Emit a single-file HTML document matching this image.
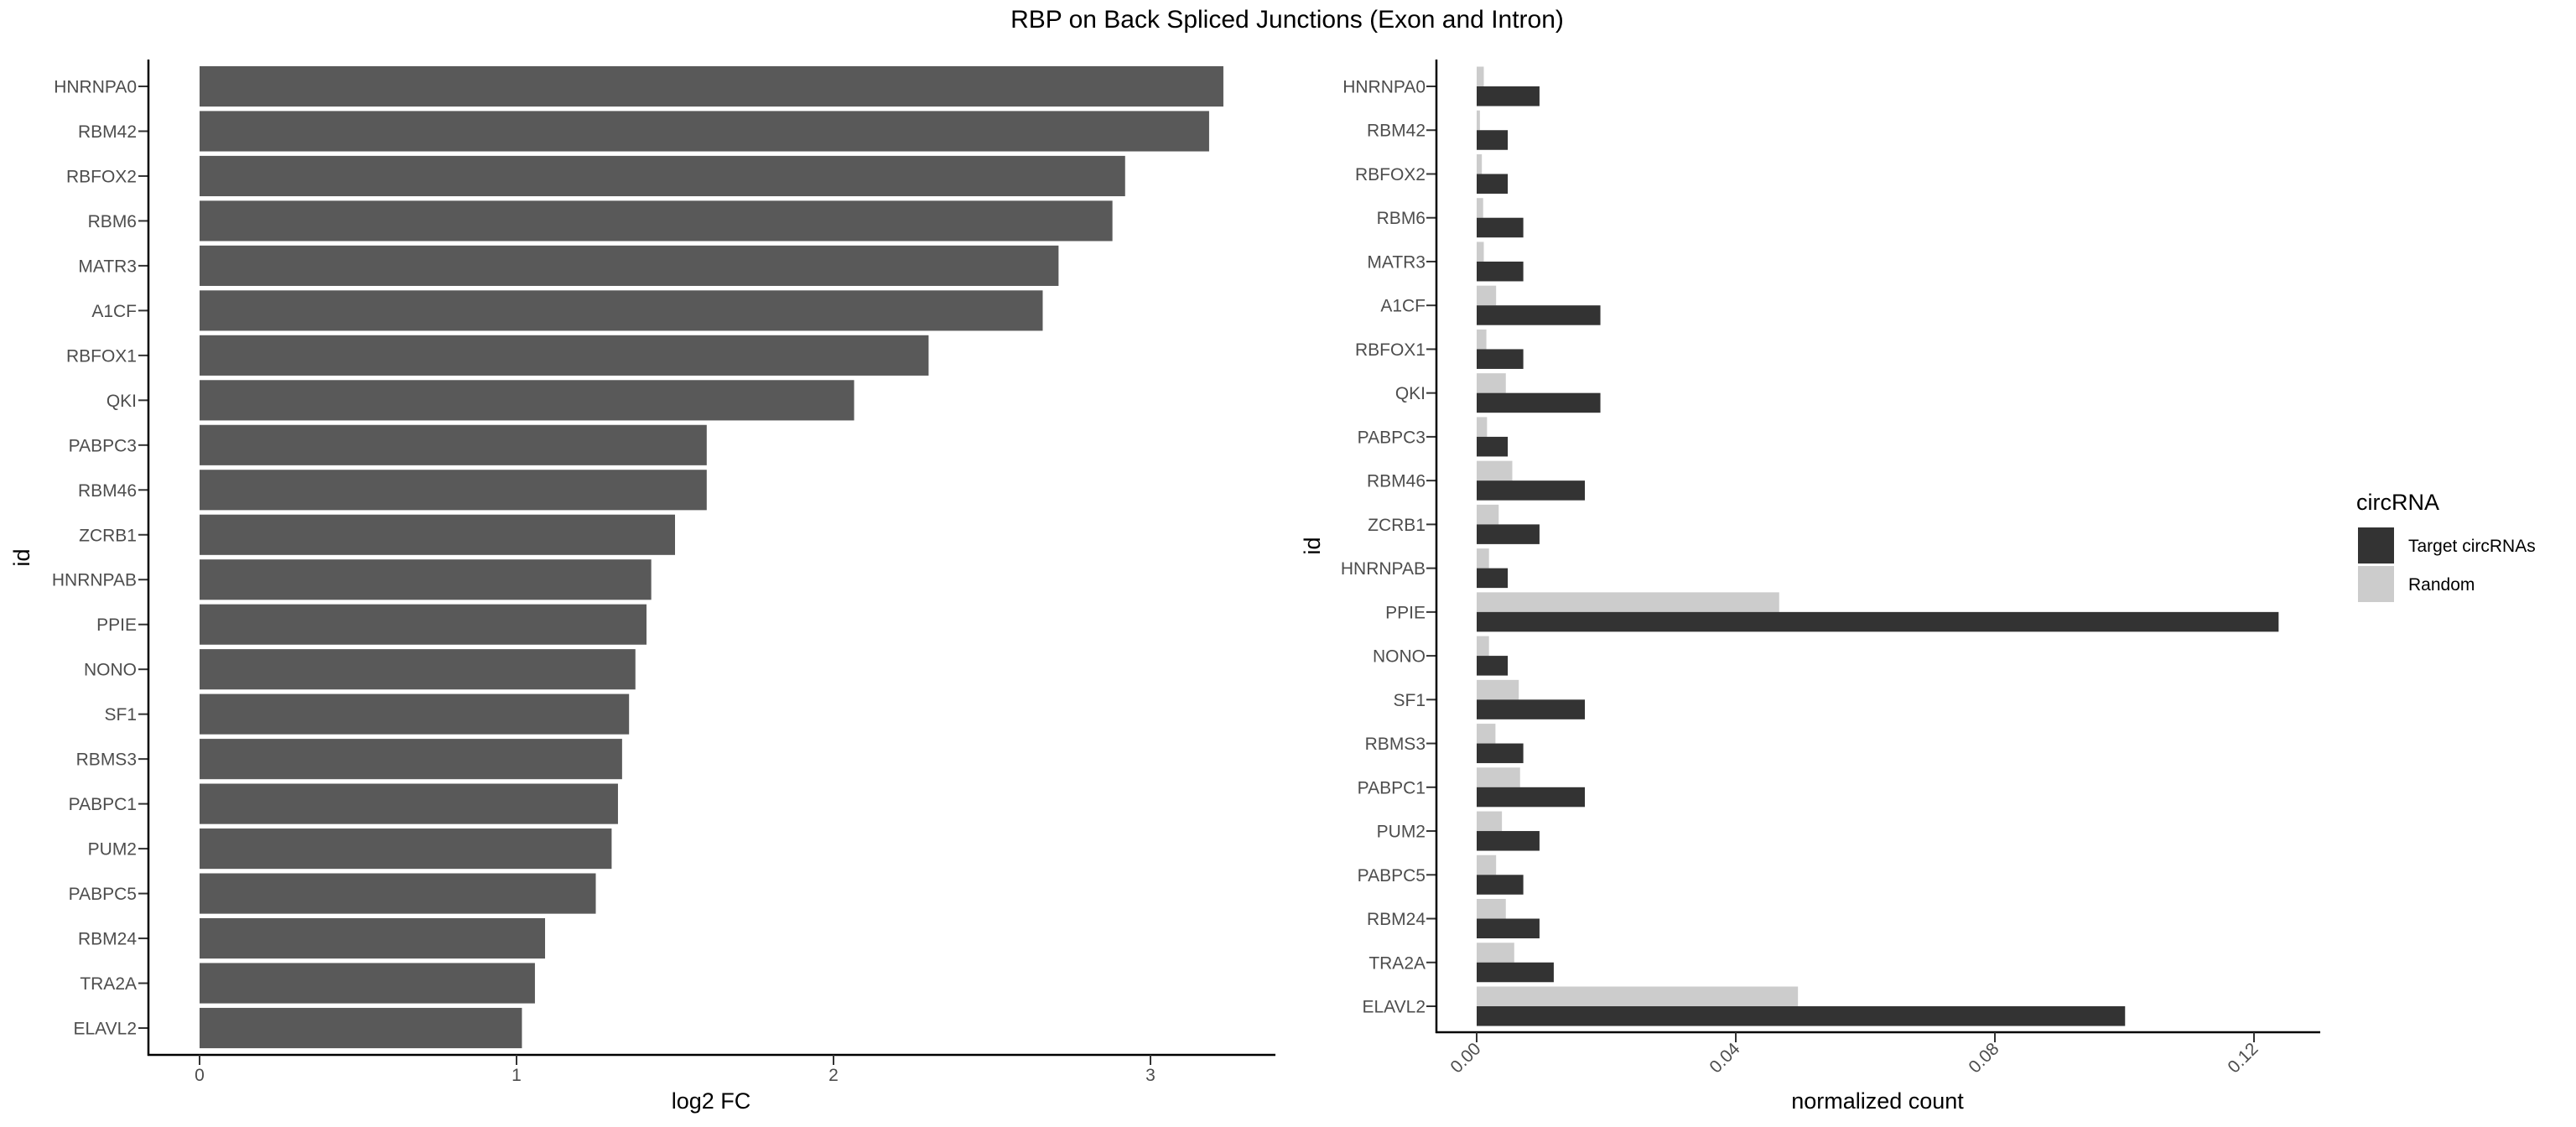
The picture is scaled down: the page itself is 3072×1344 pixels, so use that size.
<!DOCTYPE html>
<html><head><meta charset="utf-8"><style>
html,body{margin:0;padding:0;background:#fff;}
svg{display:block;font-family:"Liberation Sans",sans-serif;}
</style></head><body>
<svg id="chart" width="3072" height="1344" viewBox="0 0 3072 1344">
<text x="1535" y="33" font-size="30" text-anchor="middle" fill="#000">RBP on Back Spliced Junctions (Exon and Intron)</text>
<g id="left"></g>
<g id="right"></g>
<g>
<text x="2810" y="608" font-size="27" fill="#000">circRNA</text>
<rect x="2812" y="629" width="43" height="43" fill="#333333"/>
<text x="2872" y="658" font-size="21" fill="#000">Target circRNAs</text>
<rect x="2812" y="675" width="43" height="43" fill="#cccccc"/>
<text x="2872" y="704" font-size="21" fill="#000">Random</text>
</g>
</svg>
<script>
const categories = ["HNRNPA0","RBM42","RBFOX2","RBM6","MATR3","A1CF","RBFOX1","QKI","PABPC3","RBM46","ZCRB1","HNRNPAB","PPIE","NONO","SF1","RBMS3","PABPC1","PUM2","PABPC5","RBM24","TRA2A","ELAVL2"];
const log2fc = [3.23,3.185,2.92,2.88,2.71,2.66,2.30,2.065,1.60,1.60,1.50,1.425,1.41,1.375,1.355,1.333,1.32,1.30,1.25,1.09,1.058,1.017];
const targetCounts = [0.0097,0.0048,0.0048,0.0072,0.0072,0.0191,0.0072,0.0191,0.0048,0.0167,0.0097,0.0048,0.1238,0.0048,0.0167,0.0072,0.0167,0.0097,0.0072,0.0097,0.0119,0.1001];
const randomCounts = [0.0011,0.0005,0.0008,0.001,0.0011,0.003,0.0015,0.0045,0.0016,0.0055,0.0034,0.0019,0.0467,0.0019,0.0065,0.0029,0.0067,0.0039,0.003,0.0045,0.0058,0.0496];
const leftTicks = [0,1,2,3];
const leftTickLabels = ["0","1","2","3"];
const rightTicks = [0,0.04,0.08,0.12];
const rightTickLabels = ["0.00","0.04","0.08","0.12"];

const NS="http://www.w3.org/2000/svg";
function mk(parent,tag,attrs,text){const e=document.createElementNS(NS,tag);for(const k in attrs)e.setAttribute(k,attrs[k]);if(text!==undefined)e.textContent=text;parent.appendChild(e);return e;}

// left panel
const L=document.getElementById('left');
const lx=v=>238+v*378;
const lRow0=103, lStep=(1226-103)/(categories.length-1);
const ly=i=>lRow0+i*lStep;
categories.forEach((c,i)=>{
  const h=lStep*0.9;
  const r=mk(L,'rect',{x:lx(0),y:ly(i)-h/2,width:lx(log2fc[i])-lx(0),height:h,fill:'#595959'});
  
  
  const t=mk(L,'text',{x:163,y:ly(i)+7.5,'font-size':21,'text-anchor':'end',fill:'#4d4d4d'},c);
  
  
  mk(L,'line',{x1:165,x2:177,y1:ly(i),y2:ly(i),stroke:'#333',"stroke-width":2});
});
const la1=mk(L,'line',{x1:177,x2:177,y1:71,y2:1259,stroke:'#000','stroke-width':2.5});


const la2=mk(L,'line',{x1:176,x2:1521,y1:1258,y2:1258,stroke:'#000','stroke-width':2.5});


leftTicks.forEach((v,i)=>{
  mk(L,'line',{x1:lx(v),x2:lx(v),y1:1258,y2:1270,stroke:'#333','stroke-width':2});
  const t=mk(L,'text',{x:lx(v),y:1289,'font-size':21,'text-anchor':'middle',fill:'#4d4d4d'},leftTickLabels[i]);
  
  
});
const lxt=mk(L,'text',{x:848,y:1322,'font-size':27,'text-anchor':'middle',fill:'#000'},'log2 FC');


const lyt=mk(L,'text',{x:0,y:0,'font-size':27,'text-anchor':'middle',fill:'#000',transform:'translate(35,665) rotate(-90)'},'id');



// right panel
const R=document.getElementById('right');
const rx=v=>1761+v*7725;
const rRow0=103, rStep=(1200-103)/(categories.length-1);
const ry=i=>rRow0+i*rStep;
categories.forEach((c,i)=>{
  const g=rStep*0.9, hb=g/2;
  const r1=mk(R,'rect',{x:rx(0),y:ry(i)-hb,width:rx(randomCounts[i])-rx(0),height:hb,fill:'#cccccc'});
  
  
  const r2=mk(R,'rect',{x:rx(0),y:ry(i),width:rx(targetCounts[i])-rx(0),height:hb,fill:'#333333'});
  
  
  const t=mk(R,'text',{x:1700,y:ry(i)+7.5,'font-size':21,'text-anchor':'end',fill:'#4d4d4d'},c);
  
  
  mk(R,'line',{x1:1701,x2:1713,y1:ry(i),y2:ry(i),stroke:'#333','stroke-width':2});
});
const ra1=mk(R,'line',{x1:1713,x2:1713,y1:71,y2:1232,stroke:'#000','stroke-width':2.5});


const ra2=mk(R,'line',{x1:1712,x2:2767,y1:1231,y2:1231,stroke:'#000','stroke-width':2.5});


rightTicks.forEach((v,i)=>{
  mk(R,'line',{x1:rx(v),x2:rx(v),y1:1231,y2:1243,stroke:'#333','stroke-width':2});
  const t=mk(R,'text',{x:0,y:0,'font-size':21,'text-anchor':'end',fill:'#4d4d4d',transform:'translate('+(rx(v)+6)+',1252) rotate(-45)'},rightTickLabels[i]);
  
  
});
const rxt=mk(R,'text',{x:2239,y:1322,'font-size':27,'text-anchor':'middle',fill:'#000'},'normalized count');


const ryt=mk(R,'text',{x:0,y:0,'font-size':27,'text-anchor':'middle',fill:'#000',transform:'translate(1574,651) rotate(-90)'},'id');


</script>
</body></html>
